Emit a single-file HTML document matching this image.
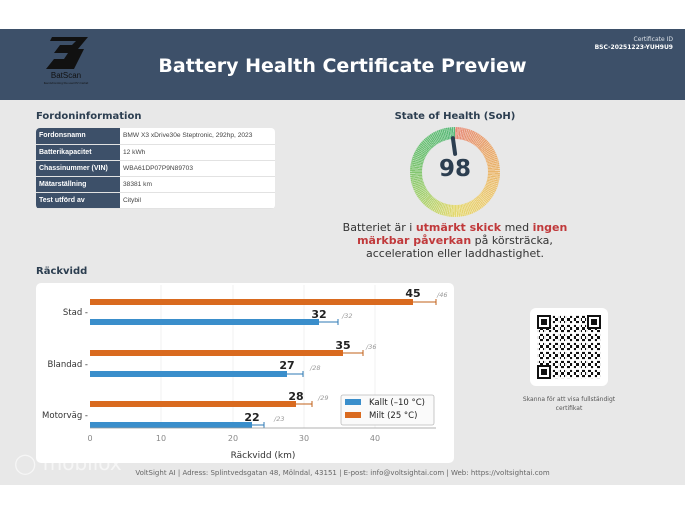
<!DOCTYPE html>
<html><head><meta charset="utf-8"><style>
*{margin:0;padding:0;box-sizing:border-box}
body{width:685px;height:514px;background:#fff;font-family:"DejaVu Sans","Liberation Sans",sans-serif;position:relative;overflow:hidden}
.a{position:absolute}
.hdr{left:0;top:29px;width:685px;height:71px;background:#3d5069}
.body{left:0;top:100px;width:685px;height:385px;background:#e8e8e8}
table{border-collapse:collapse;font-size:7px;font-family:"Liberation Sans",sans-serif;table-layout:fixed;width:239px}
td{height:16px;padding:0 3px;border-bottom:1px solid #e2e2e2;white-space:nowrap;overflow:hidden}
td.k{background:#3d5069;color:#fff;font-weight:bold;width:84px}
td.v{background:#fff;color:#444;width:155px;font-size:6.6px}
</style></head><body>
<div class="a hdr"></div>
<div class="a body"></div>
<svg class="a" style="left:40px;top:35px" width="60" height="50" viewBox="0 0 60 50">
<polygon points="12,2 48,2 38,14 44,14 34,34 6,34 14,24 24,24 28,18 14,18 20,10 32,10 36,6 10,6" fill="#111"/>
<text x="26" y="43" font-size="8" fill="#111" text-anchor="middle" font-family="Liberation Sans">BatScan</text>
<text x="26" y="49" font-size="2.5" fill="#111" text-anchor="middle">Revolutionizing the used EV market</text>
</svg>
<div class="a" style="left:0;width:685px;top:55px;text-align:center;color:#fff;font-weight:bold;font-size:19px">Battery Health Certificate Preview</div>
<div class="a" style="right:12px;top:36px;color:#dfe4ea;font-size:6px;text-align:right;line-height:8px">Certificate ID<br><b style="color:#fff">BSC-20251223-YUH9U9</b></div>

<div class="a" style="left:36px;top:111px;font-size:10px;font-weight:bold;color:#2c3e50">Fordoninformation</div>
<table class="a" style="left:36px;top:128px;border-radius:4px;overflow:hidden">
<tr><td class="k">Fordonsnamn</td><td class="v">BMW X3 xDrive30e Steptronic, 292hp, 2023</td></tr>
<tr><td class="k">Batterikapacitet</td><td class="v">12 kWh</td></tr>
<tr><td class="k">Chassinummer (VIN)</td><td class="v">WBA61DP07P9N89703</td></tr>
<tr><td class="k">Mätarställning</td><td class="v">38381 km</td></tr>
<tr><td class="k">Test utförd av</td><td class="v">Citybil</td></tr>
</table>

<div class="a" style="left:355px;width:200px;top:111px;text-align:center;font-size:10px;font-weight:bold;color:#2c3e50">State of Health (SoH)</div>
<div class="a" style="left:410px;top:127px;width:90px;height:90px;border-radius:50%;background:repeating-conic-gradient(rgba(255,255,255,.45) 0 1deg,transparent 1deg 2.5deg),conic-gradient(#e58a78,#e8a86a 60deg,#eac870 130deg,#e4d870 180deg,#a8d070 230deg,#70c070 290deg,#58b878 359deg)"></div>
<div class="a" style="left:422px;top:139px;width:66px;height:66px;border-radius:50%;background:#e8e8e8"></div>
<div class="a" style="left:452px;top:136px;width:4px;height:20px;background:#2c3e50;border-radius:2px;transform:rotate(-8deg)"></div>
<div class="a" style="left:410px;width:90px;top:156px;text-align:center;font-size:23px;font-weight:bold;color:#2c3e50">98</div>
<div class="a" style="left:330px;width:250px;top:221px;text-align:center;font-size:11px;line-height:13px;color:#333">Batteriet är i <b style="color:#c0393b">utmärkt skick</b> med <b style="color:#c0393b">ingen märkbar påverkan</b> på körsträcka, acceleration eller laddhastighet.</div>

<div class="a" style="left:36px;top:266px;font-size:10px;font-weight:bold;color:#2c3e50">Räckvidd</div>
<div class="a" style="left:36px;top:283px;width:418px;height:180px;background:#fff;border-radius:5px"></div>
<svg class="a" style="left:0;top:0" width="685" height="514" font-family="DejaVu Sans">
<g stroke="#eee" stroke-width="0.8"><line x1="161" y1="285" x2="161" y2="428"/><line x1="233" y1="285" x2="233" y2="428"/><line x1="304" y1="285" x2="304" y2="428"/><line x1="375" y1="285" x2="375" y2="428"/></g>
<g fill="#d96a1f"><rect x="90" y="299" width="323" height="6"/><rect x="90" y="350" width="253" height="6"/><rect x="90" y="401" width="206" height="6"/></g>
<g fill="#3a8ecb"><rect x="90" y="319" width="229" height="6"/><rect x="90" y="371" width="197" height="6"/><rect x="90" y="422" width="162" height="6"/></g>
<g stroke="#c0601a" stroke-width="1"><path d="M413 302H436M436 299V305M343 353H363M363 350V356M296 404H312M312 401V407"/></g>
<g stroke="#2d7ab5" stroke-width="1"><path d="M319 322H338M338 319V325M287 374H303M303 371V377M252 425H264M264 422V428"/></g>
<line x1="90" y1="428" x2="436" y2="428" stroke="#999" stroke-width="0.8"/>
<g font-size="11" font-weight="bold" fill="#222" text-anchor="middle"><text x="413" y="297">45</text><text x="319" y="318">32</text><text x="343" y="349">35</text><text x="287" y="369">27</text><text x="296" y="400">28</text><text x="252" y="421">22</text></g>
<g font-size="6.5" fill="#999" font-style="italic"><text x="437" y="297">/46</text><text x="342" y="318">/32</text><text x="366" y="349">/36</text><text x="310" y="370">/28</text><text x="318" y="400">/29</text><text x="274" y="421">/23</text></g>
<g font-size="8.5" fill="#333" text-anchor="end"><text x="88" y="315">Stad -</text><text x="88" y="367">Blandad -</text><text x="88" y="418">Motorväg -</text></g>
<g font-size="8" fill="#888" text-anchor="middle"><text x="90" y="441">0</text><text x="161" y="441">10</text><text x="233" y="441">20</text><text x="304" y="441">30</text><text x="375" y="441">40</text></g>
<text x="263" y="458" font-size="9" fill="#333" text-anchor="middle">Räckvidd (km)</text>
<rect x="341" y="395" width="93" height="30" fill="#fafafa" stroke="#bbb" stroke-width="0.8" rx="2"/>
<rect x="345" y="399" width="16" height="6" fill="#3a8ecb"/><rect x="345" y="412" width="16" height="6" fill="#d96a1f"/>
<g font-size="8.5" fill="#222"><text x="369" y="405">Kallt (–10 °C)</text><text x="369" y="418">Milt (25 °C)</text></g>
</svg>

<div class="a" style="left:530px;top:308px;width:78px;height:78px;background:#fff;border-radius:6px"></div>
<div class="a" style="left:537px;top:315px;width:64px;height:64px;background:repeating-linear-gradient(90deg,rgba(255,255,255,.9) 0 2px,transparent 2px 7px),repeating-linear-gradient(0deg,rgba(255,255,255,.9) 0 2px,transparent 2px 9px),repeating-conic-gradient(#111 0 25%,#fff 0 50%) 0 0/6px 6px"></div>
<div class="a" style="left:537px;top:315px;width:14px;height:14px;border:2px solid #111;background:#fff;box-shadow:inset 0 0 0 2px #fff,inset 0 0 0 5px #111"></div>
<div class="a" style="left:587px;top:315px;width:14px;height:14px;border:2px solid #111;background:#fff;box-shadow:inset 0 0 0 2px #fff,inset 0 0 0 5px #111"></div>
<div class="a" style="left:537px;top:365px;width:14px;height:14px;border:2px solid #111;background:#fff;box-shadow:inset 0 0 0 2px #fff,inset 0 0 0 5px #111"></div>
<div class="a" style="left:510px;width:118px;top:395px;text-align:center;font-size:6px;line-height:9px;color:#555">Skanna för att visa fullständigt certifikat</div>

<div class="a" style="left:14px;top:451px;font-size:20px;color:rgba(255,255,255,.6)">◯ mobilox</div>
<div class="a" style="left:0;width:685px;top:469px;text-align:center;font-size:7px;color:#666">VoltSight AI | Adress: Splintvedsgatan 48, Mölndal, 43151 | E-post: info@voltsightai.com | Web: https://voltsightai.com</div>
</body></html>
